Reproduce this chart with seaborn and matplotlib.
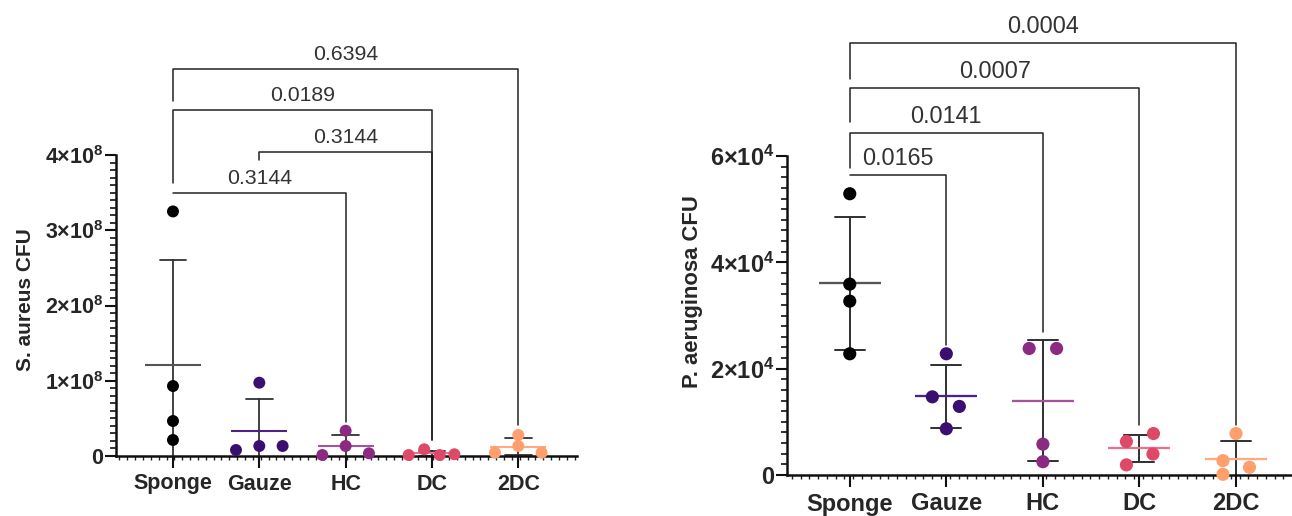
import numpy as np
import pandas as pd
import matplotlib
matplotlib.use("Agg")
import matplotlib.pyplot as plt
import seaborn as sns
from matplotlib.ticker import FixedLocator, MultipleLocator

# ---------------- data ----------------
groups = ["Sponge", "Gauze", "HC", "DC", "2DC"]
point_colors = ["#000000", "#3b0f70", "#8c2981", "#de4968", "#fe9f6d"]
mean_colors = ["#555555", "#4b2384", "#a4559b", "#e8728b", "#fdab80"]

sa_sponge = [3.25e8, 0.93e8, 0.465e8, 0.213e8]
sa_gauze = [0.080e8, 0.133e8, 0.133e8, 0.974e8]
sa_hc = [0.013e8, 0.133e8, 0.336e8, 0.036e8]
sa_dc = [0.013e8, 0.089e8, 0.013e8, 0.023e8]
sa_2dc = [0.044e8, 0.133e8, 0.279e8, 0.044e8]

pa_sponge = [52900, 35900, 32700, 22800]
pa_gauze = [22800, 14700, 12900, 8700]
pa_hc = [23800, 23800, 5800, 2500]
pa_dc = [6300, 7800, 3950, 1900]
pa_2dc = [7800, 2700, 1450, 130]

sa_yticks = [0, 1e8, 2e8, 3e8, 4e8]
sa_yticklabels = ["0", r"$\mathbf{1{\times}10^{8}}$", r"$\mathbf{2{\times}10^{8}}$",
                  r"$\mathbf{3{\times}10^{8}}$", r"$\mathbf{4{\times}10^{8}}$"]
pa_yticks = [0, 2e4, 4e4, 6e4]
pa_yticklabels = ["0", r"$\mathbf{2{\times}10^{4}}$", r"$\mathbf{4{\times}10^{4}}$",
                  r"$\mathbf{6{\times}10^{4}}$"]

sa_pairs = [("Sponge", "2DC"), ("Sponge", "DC"), ("Gauze", "DC"), ("Sponge", "HC")]
sa_pvalues = ["0.6394", "0.0189", "0.3144", "0.3144"]
pa_pairs = [("Sponge", "2DC"), ("Sponge", "DC"), ("Sponge", "HC"), ("Sponge", "Gauze")]
pa_pvalues = ["0.0004", "0.0007", "0.0141", "0.0165"]

# ---------------- layout (positions / styles) ----------------
sa_offsets = [[0, 0, 0, 0], [-0.27, 0, 0.27, 0], [-0.27, 0, 0, 0.27],
              [-0.27, -0.09, 0.09, 0.26], [-0.27, 0, 0, 0.27]]
pa_offsets = [[0, 0, 0, 0], [0, -0.145, 0.135, 0], [-0.142, 0.142, 0, 0],
              [-0.135, 0.145, 0.14, -0.135], [0, -0.135, 0.14, -0.135]]
# bracket height, left leg bottom, right leg bottom
sa_brackets = [(5.14e8, 4.72e8, 0.41e8), (4.60e8, 3.63e8, 0.21e8),
               (4.04e8, 3.93e8, 0.21e8), (3.495e8, 3.495e8, 0.45e8)]
pa_brackets = [(81300, 74500, 9400), (72800, 66400, 9400),
               (64350, 57800, 26900), (56450, 56450, 24450)]

plt.rcParams["mathtext.fontset"] = "custom"
plt.rcParams["mathtext.rm"] = "Liberation Sans"
plt.rcParams["mathtext.bf"] = "Liberation Sans:bold"
plt.rcParams["mathtext.it"] = "Liberation Sans:italic"

sns.set_style("ticks")
plt.rcParams["font.family"] = ["Liberation Sans", "DejaVu Sans"]

fig = plt.figure(figsize=(12.92, 5.16), dpi=100)
ax1 = fig.add_axes([116 / 1292, 60 / 516, 461 / 1292, 301 / 516])
ax2 = fig.add_axes([787 / 1292, 41 / 516, 505 / 1292, 319 / 516])


def draw_panel(ax, series, offsets, yticks, yticklabels, ymax, minor_step, ylabel,
               pairs, pvals, brackets, scale, ylabel_size, ylabel_pad, ylabel_y):
    rows = []
    for g, vals, offs in zip(groups, series, offsets):
        for v, o in zip(vals, offs):
            rows.append({"group": g, "value": v, "xpos": groups.index(g) + o})
    df = pd.DataFrame(rows)

    # SD error bars
    sns.pointplot(data=df, x="group", y="value", order=groups, errorbar="sd",
                  capsize=0.31, color="#333333", marker="", linestyle="none",
                  err_kws={"linewidth": 1.3 * scale, "zorder": 2}, ax=ax)
    # mean lines
    sns.pointplot(data=df, x="group", y="value", order=groups, hue="group",
                  hue_order=groups, palette=mean_colors, errorbar=None,
                  marker="_", markersize=40 * scale, markeredgewidth=1.5 * scale,
                  linestyle="none", legend=False, ax=ax, zorder=2.5)
    # individual points
    sns.scatterplot(data=df, x="xpos", y="value", hue="group", hue_order=groups,
                    palette=point_colors, s=74 * scale ** 2, linewidth=0,
                    legend=False, clip_on=False, zorder=3, ax=ax)

    ax.set_ylim(0, ymax)
    ax.set_yticks(yticks)
    ax.set_yticklabels(yticklabels)
    ax.yaxis.set_minor_locator(MultipleLocator(minor_step))
    ax.set_xticks(range(len(groups)))
    ax.set_xticklabels(groups)
    sns.despine(ax=ax)
    for s in ["left", "bottom"]:
        ax.spines[s].set_linewidth(1.8)
        ax.spines[s].set_color("#111111")
    ax.tick_params(axis="y", which="major", length=8, width=1.5, pad=1,
                   labelsize=15.5 * scale, color="#111111")
    ax.tick_params(axis="y", which="minor", length=4.3, width=1.2, color="#111111")
    ax.tick_params(axis="x", which="major", length=8.6, width=1.5, pad=4,
                   labelsize=15.5 * scale, color="#111111")
    ax.tick_params(axis="x", which="minor", length=3, width=1.0, color="#222222")
    for lab in ax.get_xticklabels() + ax.get_yticklabels():
        lab.set_fontweight("bold")
    ax.set_xlabel("")
    ax.set_ylabel(ylabel, fontsize=ylabel_size, fontweight="bold", labelpad=ylabel_pad)
    ax.yaxis.label.set_y(ylabel_y)

    for (a, b), p, (h, lb, rb) in zip(pairs, pvals, brackets):
        xa, xb = groups.index(a), groups.index(b)
        ax.plot([xa, xa, xb, xb], [lb, h, h, rb], color="#222222", lw=1.1,
                clip_on=False, zorder=1)
        ax.annotate(p, xy=((xa + xb) / 2, h), xytext=(0, 3.5),
                    textcoords="offset points", ha="center", va="bottom",
                    fontsize=15.3 * scale, color="#333333", annotation_clip=False)


draw_panel(ax1, [sa_sponge, sa_gauze, sa_hc, sa_dc, sa_2dc], sa_offsets,
           sa_yticks, sa_yticklabels, 4e8, 1e7, "S. aureus CFU",
           sa_pairs, sa_pvalues, sa_brackets, 1.0, 15, 7, 0.52)
ax1.set_xlim(-0.66, 4.68)
ax1.xaxis.set_minor_locator(FixedLocator(np.arange(-0.62, 4.68, 1 / 11)))

draw_panel(ax2, [pa_sponge, pa_gauze, pa_hc, pa_dc, pa_2dc], pa_offsets,
           pa_yticks, pa_yticklabels, 6e4, 2e3, "P. aeruginosa CFU",
           pa_pairs, pa_pvalues, pa_brackets, 1.1, 15.8, 5, 0.574)
ax2.set_xlim(-0.65, 4.58)
ax2.xaxis.set_minor_locator(FixedLocator(np.arange(-0.6, 4.58, 1 / 11)))

fig.savefig("out.png", dpi=100)
